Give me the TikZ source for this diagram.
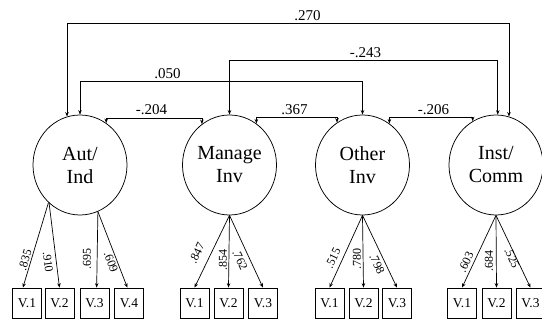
\documentclass[tikz,border=0pt]{standalone}
\usepackage{fontspec}
\setmainfont{Liberation Serif}
\usetikzlibrary{arrows.meta,shapes.geometric}
\begin{document}
\begin{tikzpicture}[x=1pt,y=-1pt,
  latent/.style={draw, ellipse, minimum width=94pt, minimum height=100pt, inner sep=0pt, align=center, font=\fontsize{20}{23}\selectfont, line width=0.75pt},
  obs/.style={draw, rectangle, minimum width=29pt, minimum height=30pt, inner sep=0pt, font=\fontsize{13.5}{14}\selectfont, line width=0.7pt},
  cov/.style={{Stealth[length=4.5pt,width=3.5pt]}-{Stealth[length=4.5pt,width=3.5pt]}, line width=0.7pt},
  load/.style={-{Stealth[length=4.5pt,width=3.5pt]}, line width=0.7pt},
  covlab/.style={anchor=base, inner sep=0pt, font=\fontsize{15}{16}\selectfont},
  loadlab/.style={inner sep=0pt, font=\fontsize{12}{12}\selectfont}]
\useasboundingbox (0,0) rectangle (542,320);

% latent variables
\node[latent] (aut) at (80,165) {Aut/\\Ind};
\node[latent] (man) at (229.5,165) {Manage\\Inv};
\node[latent] (oth) at (362.5,165) {Other\\Inv};
\node[latent] (ins) at (496,165) {Inst/\\Comm};

% observed variables
\node[obs] (a1) at (27,303) {V.1};
\node[obs] (a2) at (59.5,303) {V.2};
\node[obs] (a3) at (94.5,303) {V.3};
\node[obs] (a4) at (129,303) {V.4};
\node[obs] (m1) at (194.5,303) {V.1};
\node[obs] (m2) at (228.5,303) {V.2};
\node[obs] (m3) at (263,303) {V.3};
\node[obs] (o1) at (329.5,303) {V.1};
\node[obs] (o2) at (363.5,303) {V.2};
\node[obs] (o3) at (397,303) {V.3};
\node[obs] (i1) at (462,303) {V.1};
\node[obs] (i2) at (496.5,303) {V.2};
\node[obs] (i3) at (530.5,303) {V.3};

% levels of the covariance brackets
\coordinate (y270) at (0,23.5);
\coordinate (y243) at (0,60.5);
\coordinate (y050) at (0,81);
\coordinate (y204) at (0,118);
\coordinate (y367) at (0,117);
\coordinate (y206) at (0,117);

\draw[cov] (aut.105) -- (aut.105 |- y270) -| (ins.75);
\draw[cov] (man.90) -- (man.90 |- y243) -| (ins.88);
\draw[cov] (aut.90) -- (aut.90 |- y050) -| (oth.90);
\draw[cov] (aut.58) -- (aut.58 |- y204) -| (man.124);
\draw[cov] (man.57) -- (man.57 |- y367) -| (oth.121);
\draw[cov] (oth.57) -- (oth.57 |- y206) -| (ins.118);

\node[covlab] (l270) at (307.5,21) {.270};
\node[covlab] (l243) at (365.5,58) {-.243};
\node[covlab] (l050) at (167.5,78.5) {.050};
\node[covlab] (l204) at (151.5,115) {-.204};
\node[covlab] (l367) at (294.5,114.5) {.367};
\node[covlab] (l206) at (433.5,114.5) {-.206};

% loadings
\draw[load] (aut.230) -- (a1.105);
\draw[load] (aut.231) -- (a2.90);
\draw[load] (aut.291) -- (a3.82);
\draw[load] (aut.291) -- (a4.96);
\draw[load] (man.south) -- (m1.north);
\draw[load] (man.south) -- (m2.north);
\draw[load] (man.south) -- (m3.north);
\draw[load] (oth.south) -- (o1.north);
\draw[load] (oth.south) -- (o2.north);
\draw[load] (oth.south) -- (o3.north);
\draw[load] (ins.south) -- (i1.north);
\draw[load] (ins.south) -- (i2.north);
\draw[load] (ins.south) -- (i3.north);

\node[loadlab, rotate=73.6] (la1) at (25,260) {.835};
\node[loadlab, rotate=-82.6] (la2) at (48,262) {.910};
\node[loadlab, rotate=90] (la3) at (87,259) {.695};
\node[loadlab, rotate=-68.7] (la4) at (111,262) {.609};
\node[loadlab, rotate=64.1] (lm1) at (197,253) {.847};
\node[loadlab, rotate=90] (lm2) at (223,260) {.854};
\node[loadlab, rotate=-65.3] (lm3) at (240,260) {.762};
\node[loadlab, rotate=64.7] (lo1) at (333,258) {.515};
\node[loadlab, rotate=90] (lo2) at (357,259) {.780};
\node[loadlab, rotate=-65.3] (lo3) at (377,264) {.798};
\node[loadlab, rotate=64.7] (li1) at (466,262) {.603};
\node[loadlab, rotate=90] (li2) at (489,261) {.684};
\node[loadlab, rotate=-65.3] (li3) at (512,258) {.525};
\end{tikzpicture}
\end{document}
